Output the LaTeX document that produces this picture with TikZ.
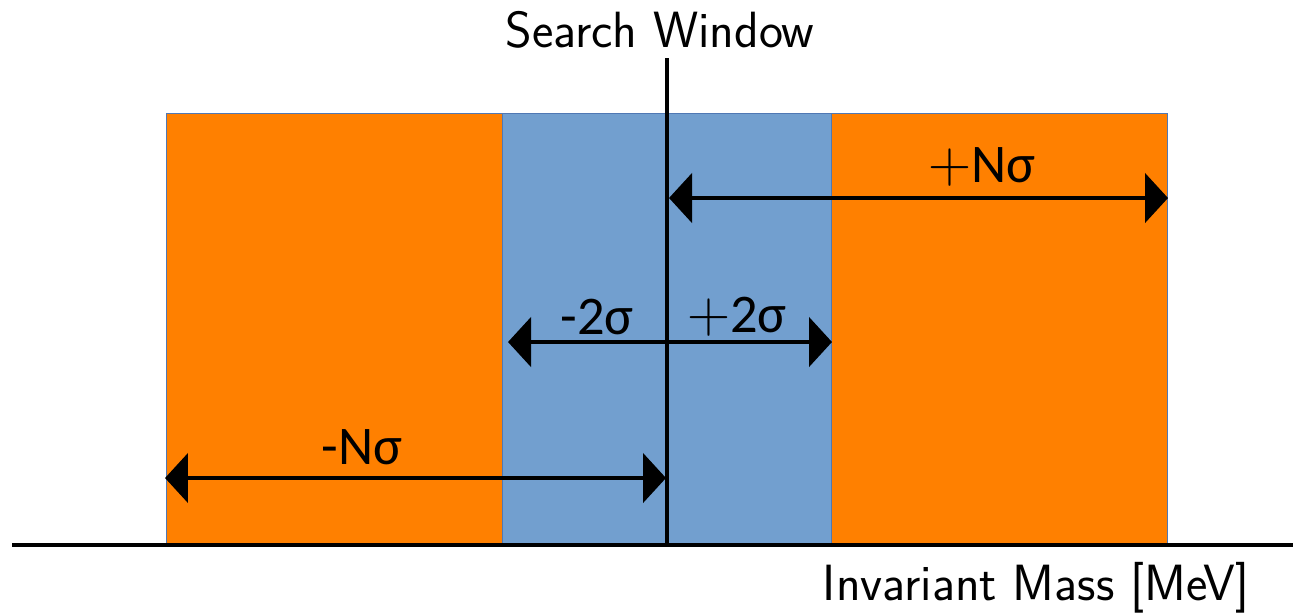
\documentclass[tikz,border=0pt]{standalone}
\usepackage{fontspec}
\newfontfamily\lab{Carlito}
\usetikzlibrary{arrows.meta}
\definecolor{orng}{RGB}{255,128,0}
\definecolor{blu}{RGB}{114,159,207}
\definecolor{edge}{RGB}{80,120,180}
\newcommand{\bigplus}{{\rmfamily\fontsize{34}{34}\selectfont +}}
\begin{document}
\begin{tikzpicture}[x=0.02cm,y=-0.02cm,
  band/.style={draw=edge,line width=0.4pt},
  dim/.style={line width=2.8pt,{Triangle[length=0.46cm,width=0.98cm]}-{Triangle[length=0.46cm,width=0.98cm]}},
  lbl/.style={font=\fontsize{31}{34}\selectfont\lab,inner sep=0pt},
  ttl/.style={font=\fontsize{29}{32}\selectfont\sffamily,inner sep=0pt}]
\useasboundingbox (0,0) rectangle (1293,613);
\fill[white] (0,0) rectangle (1293,613);
% bands
\path[band,fill=orng] (166,113) rectangle (502,545);
\path[band,fill=blu] (502,113) rectangle (831,545);
\path[band,fill=orng] (831,113) rectangle (1167,545);
% axis and search window line
\coordinate (axL) at (12,545);
\coordinate (axR) at (1293,545);
\draw[line width=1.8pt] (axL) -- (axR);
\coordinate (swT) at (667,58);
\coordinate (swB) at (667,545);
\draw[line width=2.1pt] (swT) -- (swB);
% arrows
\coordinate (pNa) at (669,198);
\coordinate (pNb) at (1168,198);
\draw[dim] (pNa) -- (pNb);
\coordinate (t2a) at (508,342);
\coordinate (t2b) at (832,342);
\draw[dim] (t2a) -- (t2b);
\coordinate (mNa) at (165,478);
\coordinate (mNb) at (666,478);
\draw[dim] (mNa) -- (mNb);
% labels
\node[ttl] (sw) at (660,30) {Search Window};
\node[ttl] (im) at (1036,588) {Invariant Mass [MeV]};
\node[lbl] (lpN) at (982,167) {\bigplus Nσ};
\node[lbl] (lp2) at (737,317) {\bigplus 2σ};
\node[lbl] (lm2) at (597,317) {-2σ};
\node[lbl] (lmN) at (362,447) {-Nσ};
\end{tikzpicture}
\end{document}
